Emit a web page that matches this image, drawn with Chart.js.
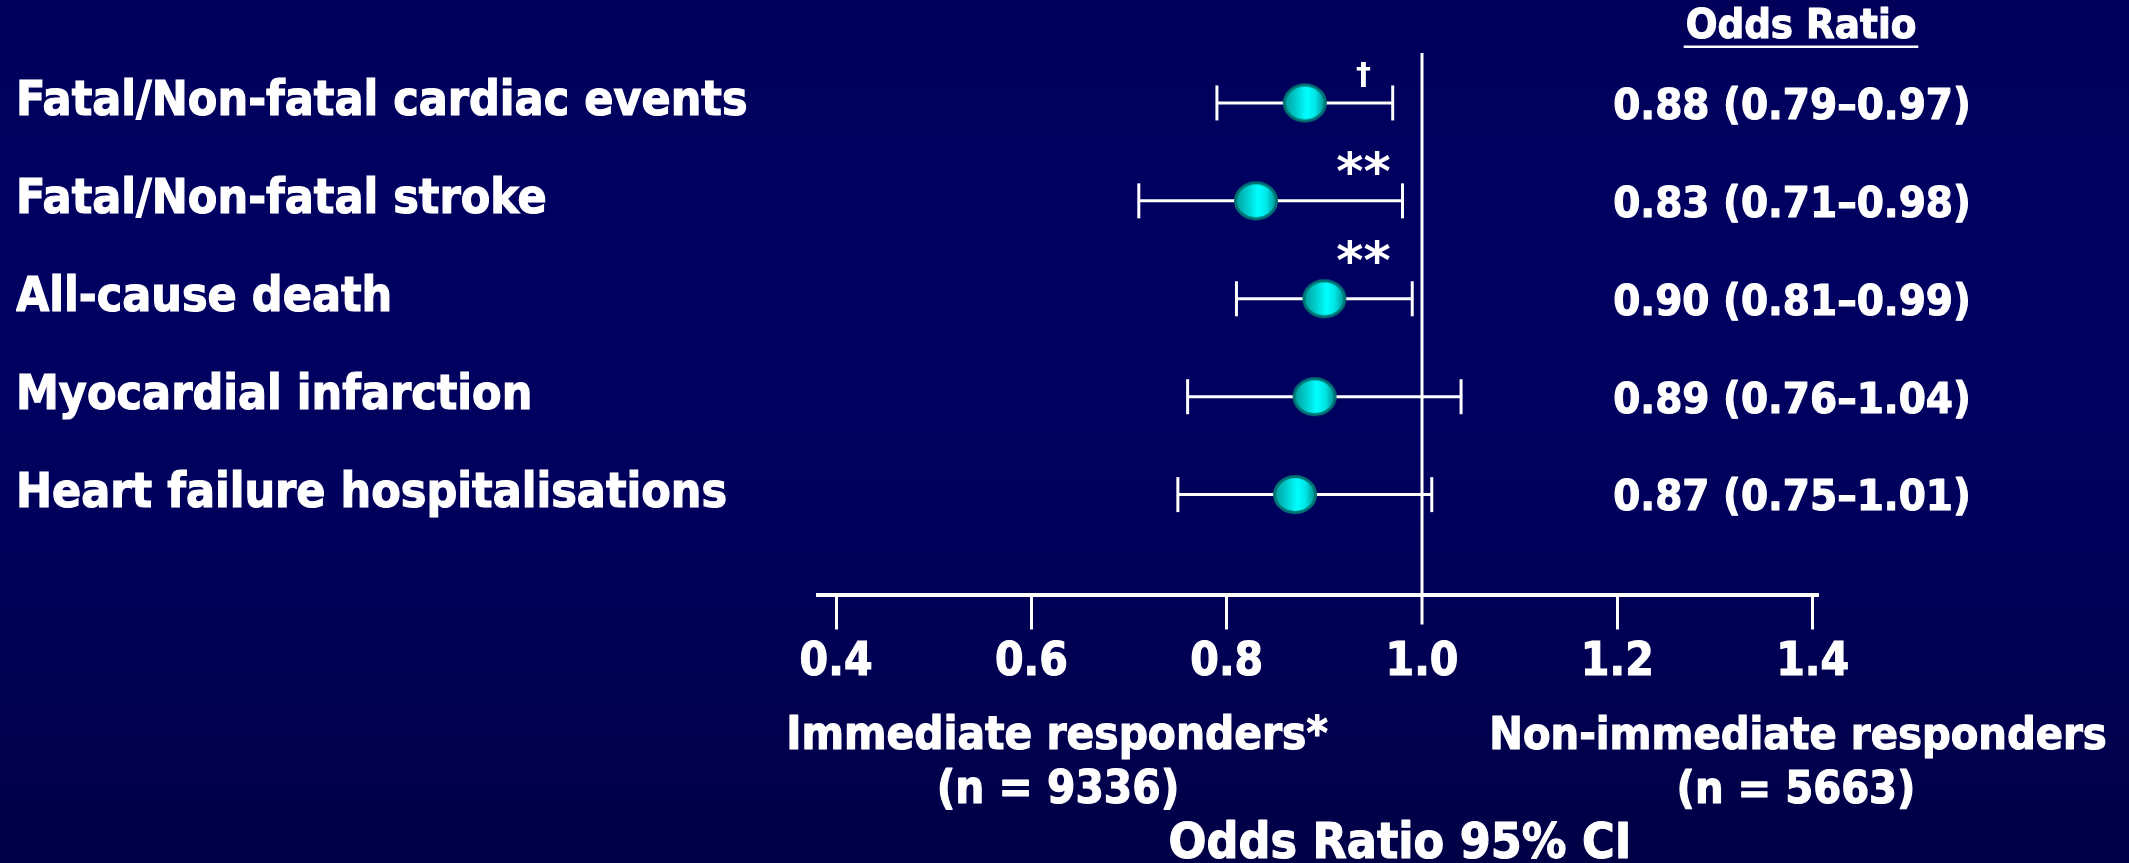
<!DOCTYPE html>
<html><head><meta charset="utf-8">
<script src="https://cdn.jsdelivr.net/npm/chart.js@4/dist/chart.umd.min.js"></script>
<style>html,body{margin:0;padding:0;background:#00005e;overflow:hidden}canvas{display:block}</style>
</head><body>
<canvas id="c" width="2129" height="863"></canvas>
<script>
// ---------------- data ----------------
const categories = ['Fatal/Non-fatal cardiac events','Fatal/Non-fatal stroke','All-cause death','Myocardial infarction','Heart failure hospitalisations'];
const oddsRatio = [0.88, 0.83, 0.90, 0.89, 0.87];
const ciLow     = [0.79, 0.71, 0.81, 0.76, 0.75];
const ciHigh    = [0.97, 0.98, 0.99, 1.04, 1.01];
const significance = ['\u2020', '**', '**', '', ''];
const xTicks = [0.4, 0.6, 0.8, 1.0, 1.2, 1.4];
const refValue = 1.0;
const columnHeader = 'Odds Ratio';
const leftGroup = ['Immediate responders*', '(n = 9336)'];
const rightGroup = ['Non-immediate responders', '(n = 5663)'];
const axisTitle = 'Odds Ratio 95% CI';
const ciLabels = oddsRatio.map((v, i) => `${v.toFixed(2)} (${ciLow[i].toFixed(2)}\u2013${ciHigh[i].toFixed(2)})`);

// ---------------- style ----------------
const FAMILY = '"DejaVu Sans Condensed", "DejaVu Sans", sans-serif';
const STROKE = 1.1;
const mctx = document.createElement('canvas').getContext('2d');
function fit(text, width) {
  mctx.font = 'bold 100px ' + FAMILY;
  return 100 * (width - STROKE) / mctx.measureText(text).width;
}
const sizeLeft = fit(categories[0], 733);
const sizeRight = fit(ciLabels[0], 359);
const sizeTick = fit('0.4', 74);
const sizeHeader = fit(columnHeader, 232);
const sizeGroupL = fit(leftGroup[0], 543);
const sizeGroupR = fit(rightGroup[0], 619);
const sizeTitle = fit(axisTitle, 464);
const font = s => 'bold ' + s.toFixed(1) + 'px ' + FAMILY;

function makeMarker() {
  const c = document.createElement('canvas');
  c.width = 46; c.height = 41;
  const g = c.getContext('2d');
  const gr = g.createLinearGradient(2, 0, 44, 0);
  gr.addColorStop(0, '#009c9c');
  gr.addColorStop(0.3, '#00cfcf');
  gr.addColorStop(0.55, '#00ffff');
  gr.addColorStop(0.75, '#00e6e6');
  gr.addColorStop(1, '#008a8a');
  g.beginPath();
  g.ellipse(23, 20.5, 20.5, 18, 0, 0, Math.PI * 2);
  g.fillStyle = gr; g.fill();
  g.lineWidth = 3; g.strokeStyle = '#007474'; g.stroke();
  return c;
}
const marker = makeMarker();

const bgPlugin = {
  id: 'bg',
  beforeDraw(chart) {
    const { ctx, width, height } = chart;
    const gr = ctx.createLinearGradient(0, 0, 0, height);
    gr.addColorStop(0, '#00005a');
    gr.addColorStop(0.3, '#000062');
    gr.addColorStop(0.6, '#00005c');
    gr.addColorStop(1, '#000046');
    ctx.save(); ctx.fillStyle = gr; ctx.fillRect(0, 0, width, height); ctx.restore();
  }
};

const refPlugin = {
  id: 'refline',
  beforeDatasetsDraw(chart) {
    const { ctx, chartArea } = chart;
    const x = chart.scales.x.getPixelForValue(refValue);
    ctx.save();
    ctx.strokeStyle = '#ffffff'; ctx.lineWidth = 3;
    ctx.beginPath(); ctx.moveTo(x, chartArea.top); ctx.lineTo(x, chartArea.bottom + 30); ctx.stroke();
    ctx.restore();
  }
};

const sigX = 0.94;
const sigDy = [-27, -33, -42, 0, 0];
function txt(ctx, t, x, y) {
  ctx.strokeText(t, x, y);
  ctx.fillText(t, x, y);
}
const textPlugin = {
  id: 'texts',
  afterDraw(chart) {
    const { ctx } = chart;
    const xs = chart.scales.x, ys = chart.scales.y;
    ctx.save();
    ctx.fillStyle = '#ffffff';
    ctx.strokeStyle = '#ffffff';
    ctx.lineWidth = STROKE;
    ctx.lineJoin = 'round';
    ctx.textAlign = 'center';
    ctx.textBaseline = 'alphabetic';
    // right column values
    ctx.font = font(sizeRight);
    ciLabels.forEach((t, i) => {
      txt(ctx, t, 1792, ys.getPixelForValue(i) + 0.3645 * sizeRight);
    });
    // significance marks
    significance.forEach((s, i) => {
      if (!s) return;
      const isDagger = s === '\u2020';
      ctx.font = 'bold ' + (isDagger ? 30 : 52) + 'px "DejaVu Sans", sans-serif';
      ctx.textBaseline = 'middle';
      ctx.fillText(s, xs.getPixelForValue(sigX), ys.getPixelForValue(i) + sigDy[i] + (isDagger ? 0 : 8));
    });
    ctx.textBaseline = 'alphabetic';
    // column header with underline
    ctx.font = font(sizeHeader);
    txt(ctx, columnHeader, 1801, 37.5);
    const hw = ctx.measureText(columnHeader).width;
    ctx.fillRect(1801 - hw / 2 - 2, 45.5, hw + 4, 2.5);
    // group labels under the axis
    ctx.font = font(sizeGroupL);
    txt(ctx, leftGroup[0], 1057, 748.5);
    txt(ctx, leftGroup[1], 1058, 802.5);
    ctx.font = font(sizeGroupR);
    txt(ctx, rightGroup[0], 1798, 748.5);
    txt(ctx, rightGroup[1], 1796, 802.5);
    // axis title
    ctx.font = font(sizeTitle);
    txt(ctx, axisTitle, 1400, 858);
    ctx.restore();
  }
};

const pointData = oddsRatio.map((v, i) => ({ x: v, y: i }));
const whiskers = categories.map((c, i) => ({
  type: 'line',
  data: [{ x: ciLow[i], y: i }, { x: ciHigh[i], y: i }],
  borderColor: '#ffffff', borderWidth: 3,
  pointStyle: 'line', pointRotation: 90, pointRadius: 17.5, pointHoverRadius: 17.5,
  pointBorderWidth: 3, pointBorderColor: '#ffffff',
  order: 1, clip: false
}));

const AXIS_Y = 594.5;
new Chart(document.getElementById('c'), {
  type: 'scatter',
  data: {
    datasets: [
      { data: pointData, pointStyle: marker, pointRadius: 22, pointHoverRadius: 22, order: 0, clip: false },
      ...whiskers
    ]
  },
  options: {
    responsive: false, animation: false, devicePixelRatio: 1,
    layout: { padding: { top: 53, left: 16, right: 311, bottom: 0 } },
    plugins: { legend: { display: false }, tooltip: { enabled: false } },
    events: [],
    scales: {
      x: {
        type: 'linear', min: 0.3815, max: 1.4055,
        afterBuildTicks: a => { a.ticks = xTicks.map(v => ({ value: v })); },
        afterFit: s => { s.height = 863 - AXIS_Y; },
        border: { display: true, color: '#ffffff', width: 4 },
        grid: {
          drawOnChartArea: false, drawTicks: true, tickLength: 35, tickWidth: 3,
          tickColor: c => (c.tick && Math.abs(c.tick.value - refValue) < 1e-9) ? 'rgba(0,0,0,0)' : '#ffffff'
        },
        ticks: {
          color: '#ffffff', autoSkip: false, maxRotation: 0,
          textStrokeColor: '#ffffff', textStrokeWidth: STROKE,
          padding: 663.5 - AXIS_Y - 35 - 0.6 * sizeTick,
          font: { family: FAMILY, size: sizeTick, weight: 'bold', lineHeight: 1.2 },
          callback: v => Number(v).toFixed(1)
        }
      },
      y: {
        type: 'linear', reverse: true, min: -0.51, max: 5.02,
        afterBuildTicks: a => { a.ticks = categories.map((c, i) => ({ value: i })); },
        afterFit: s => { s.width = 802; },
        grid: { display: false }, border: { display: false },
        ticks: {
          color: '#ffffff', crossAlign: 'far', autoSkip: false,
          textStrokeColor: '#ffffff', textStrokeWidth: STROKE,
          font: { family: FAMILY, size: sizeLeft, weight: 'bold' },
          callback: v => categories[v]
        }
      }
    }
  },
  plugins: [bgPlugin, refPlugin, textPlugin]
});
</script>
</body></html>
